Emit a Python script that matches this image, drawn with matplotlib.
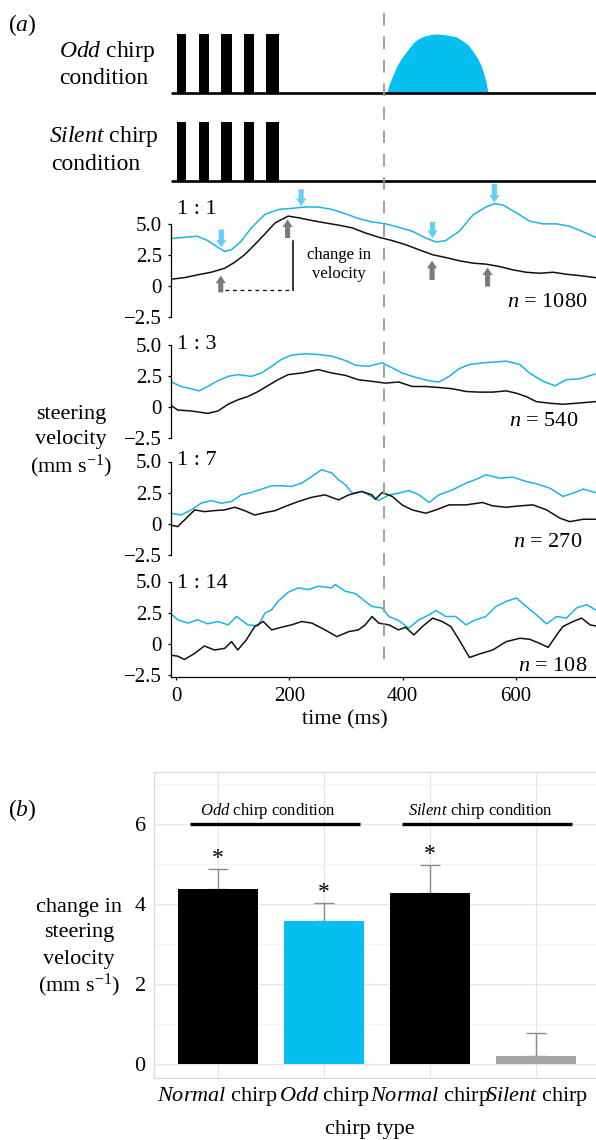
import numpy as np
import matplotlib
matplotlib.use("Agg")
import matplotlib.pyplot as plt
import matplotlib.transforms as mtransforms
from matplotlib.lines import Line2D
from matplotlib.patches import FancyArrow

plt.rcParams['font.family'] = ['Liberation Serif', 'DejaVu Serif']
plt.rcParams['mathtext.fontset'] = 'custom'
plt.rcParams['mathtext.rm'] = 'Liberation Serif'
plt.rcParams['mathtext.it'] = 'Liberation Serif:italic'
plt.rcParams['mathtext.bf'] = 'Liberation Serif:bold'

# ---------------- data: stimulus schematic ----------------
chirp_on_ms = [1, 41, 80, 120, 159]
chirp_off_ms = [18, 58, 99, 138, 181]
odd_env_t = [372, 376, 381, 388, 396, 405, 413, 420, 428, 440, 450, 461,
             472, 483, 495, 505, 516, 524, 532, 538, 542, 547, 551]
odd_env_h = [0, 0.14, 0.26, 0.42, 0.56, 0.68, 0.78, 0.86, 0.92, 0.97, 0.99, 1.0,
             0.99, 0.975, 0.95, 0.89, 0.81, 0.71, 0.59, 0.48, 0.37, 0.2, 0]
odd_onset_ms = 367

# ---------------- data: steering traces (time ms, velocity mm/s) ----------------
ratios = ['1 : 1', '1 : 3', '1 : 7', '1 : 14']
n_trials = [1080, 540, 270, 108]

odd_1_1 = [(-9, 3.79), (15, 3.90), (38, 3.98), (56, 3.63), (74, 3.09), (86, 2.77),
           (98, 2.90), (115, 3.58), (133, 4.65), (157, 5.73), (182, 6.13), (204, 6.21),
           (228, 6.32), (251, 6.32), (275, 6.13), (299, 5.78), (322, 5.40), (346, 5.13),
           (370, 4.97), (393, 4.70), (417, 4.38), (441, 3.84), (459, 3.52), (476, 3.63),
           (500, 4.38), (524, 5.67), (547, 6.32), (562, 6.59), (577, 6.48), (601, 5.86),
           (624, 5.19), (648, 4.97), (672, 4.97), (695, 4.78), (719, 4.33), (740, 3.90)]
silent_1_1 = [(-9, 0.54), (15, 0.67), (38, 0.89), (62, 1.10), (86, 1.42), (104, 1.91),
              (121, 2.50), (139, 3.31), (157, 4.17), (175, 5.05), (198, 5.59), (216, 5.46),
              (240, 5.24), (263, 5.05), (287, 4.87), (311, 4.65), (334, 4.25), (358, 3.90),
              (382, 3.63), (405, 3.31), (429, 2.90), (453, 2.50), (476, 2.28), (500, 2.02),
              (524, 1.83), (547, 1.75), (571, 1.56), (595, 1.29), (618, 1.10), (642, 1.02),
              (666, 1.10), (689, 0.94), (713, 0.83), (740, 0.67)]

odd_1_3 = [(-10, 2.05), (9, 1.64), (27, 1.46), (41, 1.29), (56, 1.64), (74, 2.10),
           (92, 2.45), (109, 2.59), (133, 2.45), (151, 2.72), (169, 3.26), (186, 3.80),
           (204, 4.15), (228, 4.26), (251, 4.20), (275, 4.07), (299, 3.72), (317, 3.34),
           (340, 3.26), (364, 3.53), (382, 3.13), (399, 2.72), (423, 2.37), (447, 2.10),
           (464, 2.00), (482, 2.45), (500, 3.07), (518, 3.40), (541, 3.53), (565, 3.61),
           (583, 3.67), (607, 3.40), (624, 2.72), (648, 2.05), (669, 1.70), (689, 2.18),
           (713, 2.26), (740, 2.64)]
silent_1_3 = [(-10, 0.16), (3, -0.24), (27, -0.32), (44, -0.43), (56, -0.51), (74, -0.32),
              (92, 0.22), (109, 0.57), (127, 0.84), (145, 1.24), (163, 1.73), (180, 2.18),
              (198, 2.59), (222, 2.72), (251, 2.99), (275, 2.72), (299, 2.53), (322, 2.18),
              (346, 2.05), (370, 1.91), (393, 2.00), (417, 1.64), (441, 1.64), (464, 1.56),
              (488, 1.46), (512, 1.24), (535, 1.19), (559, 1.19), (583, 1.29), (601, 1.10),
              (618, 0.84), (636, 0.43), (660, 0.30), (683, 0.22), (707, 0.30), (740, 0.43)]

odd_1_7 = [(-10, 0.86), (9, 0.72), (27, 1.13), (44, 1.66), (62, 1.88), (80, 1.66),
           (98, 1.80), (115, 2.33), (133, 2.52), (151, 2.79), (169, 3.06), (186, 3.06),
           (204, 3.00), (222, 3.27), (240, 3.81), (257, 4.34), (275, 4.08), (287, 3.54),
           (299, 3.14), (311, 2.47), (328, 2.60), (340, 2.33), (358, 1.88), (376, 2.33),
           (393, 2.47), (411, 2.68), (429, 2.33), (447, 1.72), (464, 2.33), (488, 2.73),
           (512, 3.27), (535, 3.67), (547, 3.94), (571, 3.67), (595, 3.75), (618, 3.40),
           (636, 3.22), (660, 2.87), (683, 2.20), (701, 2.47), (719, 2.79), (740, 2.52)]
silent_1_7 = [(-10, -0.08), (3, -0.21), (15, 0.32), (33, 1.13), (50, 0.99), (68, 1.07),
              (86, 1.13), (104, 1.34), (121, 1.07), (139, 0.72), (157, 0.91), (175, 1.07),
              (192, 1.39), (216, 1.80), (240, 2.14), (263, 2.33), (287, 1.93), (305, 2.33),
              (328, 2.60), (346, 2.33), (352, 1.98), (364, 2.52), (382, 2.20), (399, 1.53),
              (417, 1.13), (441, 0.86), (459, 1.13), (482, 1.53), (512, 1.53), (541, 1.72),
              (559, 1.45), (583, 1.34), (607, 1.45), (630, 1.53), (654, 1.13), (678, 0.46),
              (695, 0.19), (719, 0.38), (740, 0.38)]

odd_1_14 = [(-10, 2.47), (3, 1.94), (21, 1.67), (38, 1.94), (56, 1.61), (74, 1.80),
            (92, 1.53), (107, 2.20), (127, 1.53), (145, 1.45), (157, 2.47), (169, 2.74),
            (180, 3.41), (198, 4.14), (216, 4.49), (234, 4.35), (251, 4.62), (275, 4.49),
            (281, 4.76), (299, 4.22), (317, 4.03), (334, 3.41), (346, 3.01), (364, 2.88),
            (376, 2.20), (393, 1.88), (411, 1.26), (429, 1.94), (447, 2.34), (459, 2.69),
            (476, 2.20), (494, 2.20), (512, 1.53), (529, 1.94), (547, 2.20), (565, 3.01),
            (583, 3.41), (601, 3.68), (618, 3.01), (636, 2.34), (654, 1.61), (672, 2.20),
            (689, 2.07), (707, 2.88), (725, 3.15), (740, 2.74)]
silent_1_14 = [(-10, -0.89), (3, -0.97), (15, -1.24), (33, -0.75), (50, -0.16), (68, -0.48),
               (86, -0.35), (98, 0.19), (109, -0.48), (124, 0.32), (139, 1.40), (154, 1.80),
               (169, 1.13), (186, 1.34), (204, 1.53), (222, 1.80), (240, 1.67), (263, 1.13),
               (284, 0.59), (305, 0.99), (322, 1.13), (334, 1.53), (346, 2.20), (358, 1.67),
               (376, 1.53), (393, 1.13), (405, 1.34), (420, 0.73), (435, 1.40), (453, 2.07),
               (470, 1.80), (485, 1.40), (500, 0.32), (518, -1.08), (535, -0.81), (559, -0.48),
               (583, 0.19), (607, 0.46), (624, 0.38), (642, 0.05), (657, -0.27), (672, 0.73),
               (683, 1.40), (701, 1.80), (716, 2.07), (731, 1.53), (740, 1.45)]

odd_traces = [odd_1_1, odd_1_3, odd_1_7, odd_1_14]
silent_traces = [silent_1_1, silent_1_3, silent_1_7, silent_1_14]

# annotation arrows on the 1:1 panel: (time, tail value, tip value)
cyan_arrows = [(80, 4.52, 3.09), (221, 7.74, 6.40), (453, 5.13, 3.84), (562, 8.15, 6.67)]
grey_arrows = [(79, -0.51, 0.83), (197, 3.84, 5.32), (452, 0.48, 2.02), (550, -0.05, 1.48)]

# ---------------- data: panel (b) ----------------
chirp_type = ['Normal', 'Odd', 'Normal', 'Silent']
velocity_change = [4.38, 3.58, 4.28, 0.21]
velocity_err = [0.50, 0.45, 0.70, 0.57]
significant = [True, True, True, False]
conditions = [('Odd', 0, 1), ('Silent', 2, 3)]

# ---------------- styles ----------------
BLUE = '#1AB4E8'
CYAN_FILL = '#06BEF0'
CYAN_ARROW = '#62D0F4'
GREY_ARROW = '#7A7A7A'
bar_colors = ['#000000', CYAN_FILL, '#000000', '#A6A6A6']

W, H = 596, 1140
fig = plt.figure(figsize=(W / 100, H / 100), dpi=100)


def add_ax(l, t, r, b):
    ax = fig.add_axes([l / W, 1 - b / H, (r - l) / W, (b - t) / H])
    ax.set_facecolor('none')
    return ax


def ftext(x, y, s, **kw):
    return fig.text(x / W, 1 - y / H, s, **kw)


XLIM = (-8.8, 741.4)
AX_L, AX_R = 171, 596

# ---------------- stimulus rows ----------------
for top, bottom, has_odd in [(28, 96, True), (116, 184, False)]:
    ax = add_ax(AX_L, top, AX_R, bottom)
    ax.set_xlim(*XLIM)
    ax.set_ylim(-0.05, 1.1)
    ax.axis('off')
    widths = [off - on for on, off in zip(chirp_on_ms, chirp_off_ms)]
    ax.bar(chirp_on_ms, [1.0] * len(chirp_on_ms), width=widths, align='edge',
           color='black', linewidth=0)
    ax.plot(XLIM, [0, 0], color='black', lw=1.9, solid_capstyle='butt')
    if has_odd:
        ax.fill_between(odd_env_t, 0, odd_env_h, color=CYAN_FILL, linewidth=0)

ftext(8, 22, r'($\mathit{a}$)', fontsize=17, ha='left', va='center_baseline')
ftext(59, 48, r'$\mathit{Odd}$ chirp', fontsize=17, ha='left', va='center_baseline')
ftext(59, 76, 'condition', fontsize=17, ha='left', va='center_baseline')
ftext(49, 133, r'$\mathit{Silent}$ chirp', fontsize=17, ha='left', va='center_baseline')
ftext(51, 162, 'condition', fontsize=17, ha='left', va='center_baseline')

# ---------------- trace panels ----------------
Y0 = [286, 407, 524, 644]
PPU = 12.5
YLIM = (-2.65, 7.3)
trace_axes = []
for k in range(4):
    top = Y0[k] - YLIM[1] * PPU
    bottom = Y0[k] - YLIM[0] * PPU
    ax = add_ax(AX_L, top, AX_R, bottom)
    trace_axes.append(ax)
    ax.set_xlim(*XLIM)
    ax.set_ylim(*YLIM)
    to, vo = np.array(odd_traces[k]).T
    ts, vs = np.array(silent_traces[k]).T
    ax.plot(to, vo, color=BLUE, lw=1.1)
    ax.plot(ts, vs, color='#111111', lw=1.1)
    for s in ['top', 'right']:
        ax.spines[s].set_visible(False)
    ax.spines['left'].set_linewidth(0.9)
    ax.set_yticks([-2.5, 0, 2.5, 5.0])
    ax.set_yticklabels(['\u22122.5', '0', '2.5', '5.0'])
    ax.tick_params(axis='y', length=2.2, width=0.9, pad=4.3, labelsize=15)
    if k < 3:
        ax.spines['bottom'].set_visible(False)
        ax.set_xticks([])
        ax.spines['left'].set_bounds(-2.5, 5.0)
    else:
        ax.spines['left'].set_bounds(YLIM[0], 5.0)
        ax.spines['bottom'].set_linewidth(0.9)
        ax.set_xticks([0, 200, 400, 600])
        ax.tick_params(axis='x', length=2.2, width=0.9, pad=5, labelsize=15)
    ax.text(2, [6.3, 5.2, 5.3, 5.0][k], ratios[k], fontsize=16, ha='left',
            va='center_baseline')
    ax.text([727, 710, 717, 727][k], [-1.12, -0.96, -1.28, -1.6][k],
            r'$\mathit{n}$ = %d' % n_trials[k], fontsize=16, ha='right',
            va='center_baseline')

ax11 = trace_axes[0]
for t, v0, v1 in cyan_arrows:
    ax11.add_patch(FancyArrow(t, v0, 0, v1 - v0, width=9, head_width=18,
                              head_length=0.6, length_includes_head=True,
                              color=CYAN_ARROW, lw=0, clip_on=False))
for t, v0, v1 in grey_arrows:
    ax11.add_patch(FancyArrow(t, v0, 0, v1 - v0, width=9, head_width=18,
                              head_length=0.6, length_includes_head=True,
                              color=GREY_ARROW, lw=0, clip_on=False))
ax11.plot([207, 207], [-0.32, 3.58], color='black', lw=1.1)
ax11.plot([86, 207], [-0.32, -0.32], color='black', lw=0.9, dashes=(3, 3))
ax11.text(287, 2.63, 'change in', fontsize=12, ha='center', va='center_baseline')
ax11.text(287, 1.10, 'velocity', fontsize=12, ha='center', va='center_baseline')

# dashed line marking the odd chirp onset across all panels
trans = mtransforms.blended_transform_factory(trace_axes[-1].transData, fig.transFigure)
fig.add_artist(Line2D([odd_onset_ms, odd_onset_ms], [1 - 13 / H, 1 - 667 / H],
                      transform=trans, color='#999999', lw=1.3, dashes=(7, 6)))

ftext(71, 412, 'steering', fontsize=16, ha='center', va='center_baseline')
ftext(71, 437, 'velocity', fontsize=16, ha='center', va='center_baseline')
ftext(71, 463, r'(mm s$^{-1}$)', fontsize=16, ha='center', va='center_baseline')
ftext(345, 717, 'time (ms)', fontsize=16, ha='center', va='center_baseline')

# ---------------- panel (b) ----------------
axb = add_ax(154, 772, 600, 1078)
axb.set_facecolor('white')
x = np.arange(len(chirp_type))
axb.set_xlim(-0.6, 3.6)
axb.set_ylim(-0.35, 7.3)
axb.set_yticks([0, 2, 4, 6])
axb.set_yticks([1, 3, 5, 7], minor=True)
axb.set_xticks(x)
axb.set_xticklabels([r'$\mathit{%s}$ chirp' % c for c in chirp_type])
axb.grid(which='major', color='#E6E6E6', lw=0.9)
axb.grid(which='minor', axis='y', color='#F2F2F2', lw=0.6)
axb.set_axisbelow(True)
for s in axb.spines.values():
    s.set_color('#D9D9D9')
    s.set_linewidth(0.9)
axb.tick_params(which='both', length=0, labelsize=16)
axb.tick_params(axis='y', pad=6)
axb.tick_params(axis='x', pad=5)
axb.bar(x, velocity_change, width=0.755, color=bar_colors, linewidth=0, zorder=2)
axb.errorbar(x, velocity_change, yerr=[np.zeros(len(x)), velocity_err], fmt='none',
             ecolor='#8A8A8A', elinewidth=1.0, capsize=7, capthick=1.0, zorder=1)
for xi, m, e, sig in zip(x, velocity_change, velocity_err, significant):
    if sig:
        axb.text(xi, m + e + 0.12, '*', fontsize=17, ha='center', va='baseline')
for name, i, j in conditions:
    x0, x1 = i - 0.26, j + 0.34
    axb.plot([x0, x1], [6.0, 6.0], color='black', lw=2.4, solid_capstyle='butt')
    axb.text((x0 + x1) / 2 - 0.07, 6.4, r'$\mathit{%s}$ chirp condition' % name,
             fontsize=12, ha='center', va='center_baseline')

ftext(8, 807, r'($\mathit{b}$)', fontsize=17, ha='left', va='center_baseline')
ftext(79, 905, 'change in', fontsize=16, ha='center', va='center_baseline')
ftext(79, 930, 'steering', fontsize=16, ha='center', va='center_baseline')
ftext(79, 957, 'velocity', fontsize=16, ha='center', va='center_baseline')
ftext(79, 982, r'(mm s$^{-1}$)', fontsize=16, ha='center', va='center_baseline')
ftext(370, 1127, 'chirp type', fontsize=16, ha='center', va='center_baseline')

fig.savefig('out.png', dpi=100)
